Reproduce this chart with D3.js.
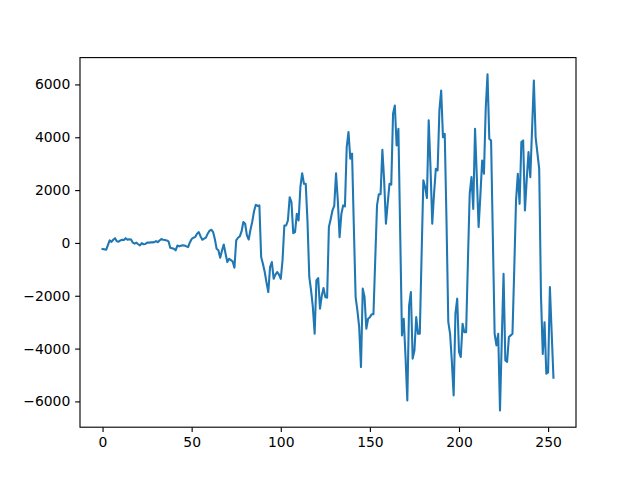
<!DOCTYPE html>
<html><head><meta charset="utf-8">
<script src="https://cdn.jsdelivr.net/npm/d3@7"></script>
<style>body{margin:0;background:#fff}svg{display:block}</style>
</head><body>
<script>
const values = [
-230,-240,-260,-80,95,40,120,180,60,50,
95,120,110,180,120,140,130,10,-30,10,
-50,-95,-10,-50,-40,10,10,20,20,30,
70,30,90,145,120,110,95,60,-180,-200,
-220,-280,-100,-130,-110,-90,-100,-130,-160,20,
150,200,220,350,410,245,120,160,200,350,
460,500,420,150,-220,-280,-560,-300,-60,-400,
-725,-600,-650,-700,-940,95,195,245,435,790,
725,285,130,500,800,1200,1445,1400,1420,-537,
-800,-1100,-1500,-1860,-915,-725,-1355,-1200,-1100,-1200,
-1360,-650,660,660,850,1730,1545,370,410,1100,
850,2110,2640,2240,2240,800,-1290,-1800,-2430,-3440,
-1420,-1330,-2490,-2000,-1710,-2050,-2075,600,900,1230,
1400,2640,1610,220,1100,1420,1380,3630,4200,3190,
3380,600,-2050,-2560,-3190,-4700,-1730,-2050,-3250,-2870,
-2810,-2700,-2700,-640,1420,1840,1840,3530,2370,725,
1500,2240,2210,4890,5205,3690,4320,400,-3500,-2870,
-4320,-5960,-2370,-1860,-4380,-4070,-2810,-3440,-3440,-500,
2370,2110,1700,4640,2870,725,1860,2810,2745,5015,
5770,4005,4130,800,-3000,-3440,-4500,-5770,-2680,-2110,
-4130,-4320,-3060,-3380,-3380,-700,1860,2490,1290,4320,
2500,600,1800,3120,2620,5100,6380,3945,3880,200,
-3440,-3880,-3440,-6340,-3700,-1170,-4450,-4500,-3560,-3500,
-3440,-1000,1600,2620,1480,3820,3880,1230,2400,3440,
2490,4300,6150,4000,3400,2800,-2000,-4200,-3000,-4950,
-4900,-1670,-3400,-5100
];
const xTicks = [0, 50, 100, 150, 200, 250];
const yTicks = [-6000, -4000, -2000, 0, 2000, 4000, 6000];

(function () {
const W = 640, H = 480;
const mL = 80, mR = 576, mT = 57.6, mB = 427.2;
const svg = d3.select("body").append("svg").attr("width", W).attr("height", H);

const n = values.length;
const xPad = (n - 1) * 0.05;
const x = d3.scaleLinear().domain([-xPad, (n - 1) + xPad]).range([mL, mR]);
const yMin = d3.min(values), yMax = d3.max(values);
const yPad = (yMax - yMin) * 0.05;
const y = d3.scaleLinear().domain([yMin - yPad, yMax + yPad]).range([mB, mT]);

const line = d3.line().x((d, i) => x(i)).y(d => y(d));
svg.append("path").datum(values)
  .attr("fill", "none").attr("stroke", "#1f77b4")
  .attr("stroke-width", 2.08).attr("stroke-linejoin", "round").attr("stroke-linecap", "square")
  .attr("d", line);

const fontFam = "DejaVu Sans, sans-serif";
const xAxis = svg.append("g").attr("transform", `translate(0,${mB})`)
  .call(d3.axisBottom(x).tickValues(xTicks).tickSize(4.86).tickPadding(4.86).tickFormat(d3.format("d")));
const yAxis = svg.append("g").attr("transform", `translate(${mL},0)`)
  .call(d3.axisLeft(y).tickValues(yTicks).tickSize(4.86).tickPadding(4.86).tickFormat(d => d < 0 ? "\u2212" + Math.abs(d) : String(d)));
[xAxis, yAxis].forEach(g => {
  g.select(".domain").remove();
  g.selectAll(".tick line").attr("stroke", "#000").attr("stroke-width", 1.11);
  g.selectAll(".tick text").attr("fill", "#000").style("font-family", fontFam).style("font-size", "13.9px");
});

svg.append("rect").attr("x", mL).attr("y", mT).attr("width", mR - mL).attr("height", mB - mT)
  .attr("fill", "none").attr("stroke", "#000").attr("stroke-width", 1.11);
})();
</script>
</body></html>
